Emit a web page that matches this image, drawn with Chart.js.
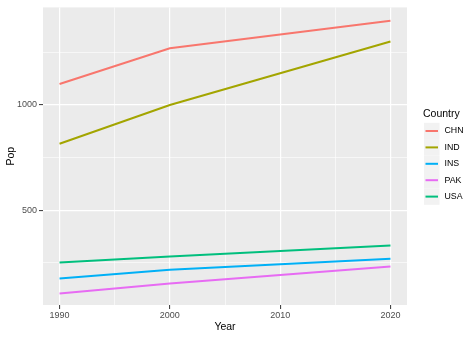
<!DOCTYPE html>
<html>
<head>
<meta charset="utf-8">
<script src="https://cdn.jsdelivr.net/npm/chart.js@4/dist/chart.umd.min.js"></script>
<style>
  html, body { margin: 0; padding: 0; background: #ffffff; }
  #wrap { width: 474px; height: 338px; position: relative; }
</style>
</head>
<body>
<div id="wrap"><canvas id="c" width="474" height="338"></canvas></div>
<script>
// Population (millions) by country and year
const years = [1990, 2000, 2020];
const countries = ["CHN", "IND", "INS", "PAK", "USA"];
const popCHN = [1100, 1270, 1400];
const popIND = [816, 1000, 1302];
const popINS = [175, 217, 269];
const popPAK = [104, 151, 232];
const popUSA = [251, 280, 332];
const colours = ["#F8766D", "#A3A500", "#00B0F6", "#E76BF3", "#00BF7D"];

const xMajor = [1990, 2000, 2010, 2020];
const xMinor = [1995, 2005, 2015];
const yMajor = [500, 1000];
const yMinor = [250, 750, 1250];

const seriesValues = [popCHN, popIND, popINS, popPAK, popUSA];

const datasets = countries.map((name, i) => ({
  label: name,
  data: years.map((yr, j) => ({ x: yr, y: seriesValues[i][j] })),
  borderColor: colours[i],
  backgroundColor: colours[i],
  borderWidth: 2,
  pointRadius: 0,
  tension: 0,
  fill: false
}));

const FONT = "'Liberation Sans', Arial, sans-serif";

// grey panel behind the plot, axis titles and the legend on the right
const ggDecor = {
  id: 'ggDecor',
  beforeDraw(chart) {
    const { ctx, chartArea: a } = chart;
    ctx.save();
    ctx.fillStyle = '#EBEBEB';
    ctx.fillRect(a.left, a.top, a.right - a.left, a.bottom - a.top);
    ctx.restore();
  },
  afterDraw(chart) {
    const { ctx, chartArea: a } = chart;
    ctx.save();
    ctx.fillStyle = '#000000';
    ctx.font = '10.5px ' + FONT;
    ctx.textAlign = 'center';
    ctx.textBaseline = 'middle';
    ctx.fillText('Year', (a.left + a.right) / 2, 327);
    ctx.translate(11, (a.top + a.bottom) / 2);
    ctx.rotate(-Math.PI / 2);
    ctx.fillText('Pop', 0, 0);
    ctx.restore();

    // legend
    ctx.save();
    const lx = 424, keyW = 15.5, keyH = 16.4, top0 = 122.8;
    ctx.fillStyle = '#000000';
    ctx.font = '10.5px ' + FONT;
    ctx.textAlign = 'left';
    ctx.textBaseline = 'middle';
    ctx.fillText('Country', 423, 114.5);
    countries.forEach((name, i) => {
      const y = top0 + i * keyH;
      ctx.fillStyle = '#F2F2F2';
      ctx.fillRect(lx, y, keyW, keyH);
      ctx.strokeStyle = colours[i];
      ctx.lineWidth = 2;
      ctx.beginPath();
      ctx.moveTo(lx + 1.5, y + keyH / 2);
      ctx.lineTo(lx + keyW - 1.5, y + keyH / 2);
      ctx.stroke();
      ctx.fillStyle = '#000000';
      ctx.font = '8.8px ' + FONT;
      ctx.fillText(name, 444.5, y + keyH / 2);
    });
    ctx.restore();
  }
};

function tickSet(major, minor) {
  return major.concat(minor).sort((p, q) => p - q).map(v => ({ value: v }));
}

new Chart(document.getElementById('c'), {
  type: 'line',
  data: { datasets },
  plugins: [ggDecor],
  options: {
    responsive: false,
    animation: false,
    layout: { padding: { left: 0, right: 67, top: 5, bottom: 0 } },
    plugins: { legend: { display: false }, tooltip: { enabled: false } },
    scales: {
      x: {
        type: 'linear',
        min: 1988.5,
        max: 2021.5,
        afterBuildTicks(scale) { scale.ticks = tickSet(xMajor, xMinor); },
        afterFit(scale) { scale.height = 33; },
        border: { display: false },
        grid: {
          color: '#FFFFFF',
          lineWidth: c => xMajor.includes(c.tick.value) ? 1.2 : 0.6,
          tickColor: c => xMajor.includes(c.tick.value) ? '#333333' : 'rgba(0,0,0,0)',
          tickLength: 4,
          tickWidth: 1
        },
        ticks: {
          autoSkip: false,
          maxRotation: 0,
          padding: 1.5,
          color: '#4D4D4D',
          font: { family: FONT, size: 9 },
          callback: v => xMajor.includes(v) ? String(v) : ''
        }
      },
      y: {
        type: 'linear',
        min: 49,
        max: 1464,
        afterBuildTicks(scale) { scale.ticks = tickSet(yMajor, yMinor); },
        afterFit(scale) { scale.width = 43; },
        border: { display: false },
        grid: {
          color: '#FFFFFF',
          lineWidth: c => yMajor.includes(c.tick.value) ? 1.2 : 0.6,
          tickColor: c => yMajor.includes(c.tick.value) ? '#333333' : 'rgba(0,0,0,0)',
          tickLength: 4,
          tickWidth: 1
        },
        ticks: {
          autoSkip: false,
          padding: 2,
          color: '#4D4D4D',
          font: { family: FONT, size: 9 },
          callback: v => yMajor.includes(v) ? String(v) : ''
        }
      }
    }
  }
});
</script>
</body>
</html>
